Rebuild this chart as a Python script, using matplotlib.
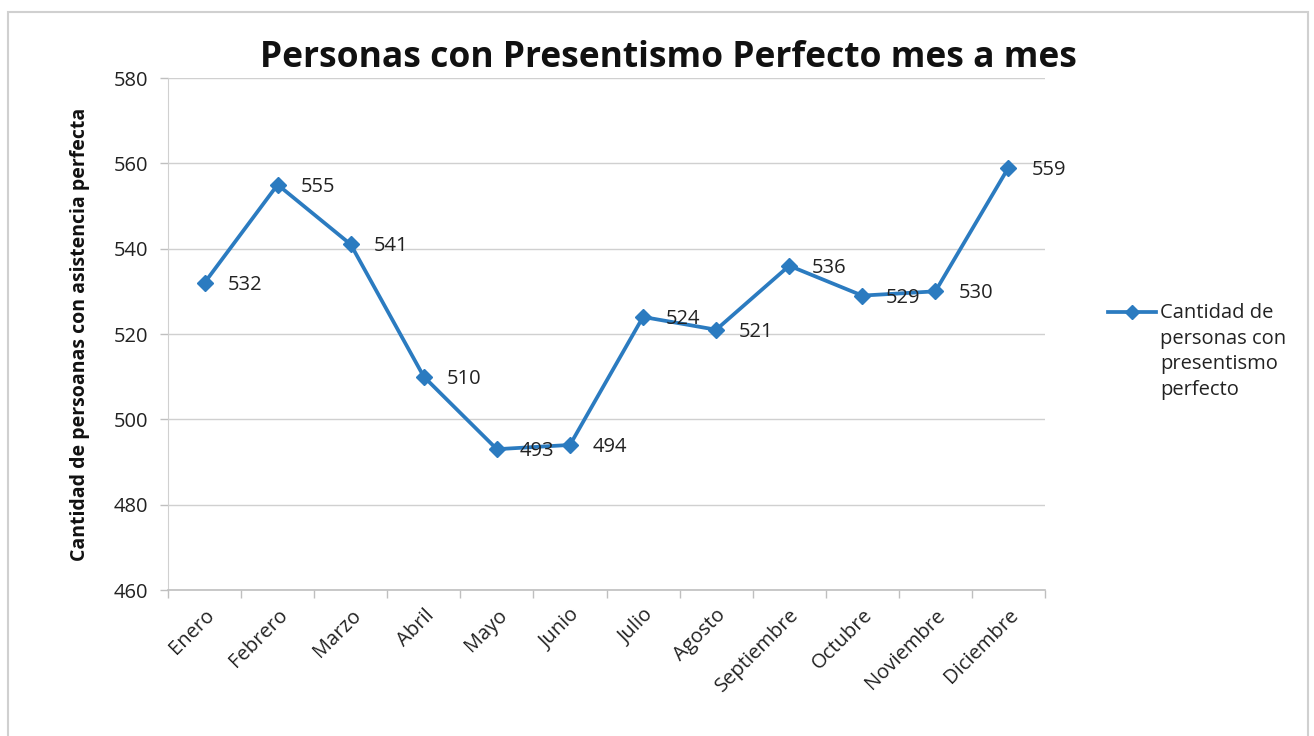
import matplotlib
matplotlib.use("Agg")
import matplotlib.pyplot as plt
from matplotlib.lines import Line2D
from matplotlib.patches import Rectangle
import numpy as np

months = ["Enero", "Febrero", "Marzo", "Abril", "Mayo", "Junio", "Julio",
          "Agosto", "Septiembre", "Octubre", "Noviembre", "Diciembre"]
values = [532, 555, 541, 510, 493, 494, 524, 521, 536, 529, 530, 559]
yticks = [460, 480, 500, 520, 540, 560, 580]
title = "Personas con Presentismo Perfecto mes a mes"
ylabel = "Cantidad de persoanas con asistencia perfecta"
legend_label = "Cantidad de\npersonas con\npresentismo\nperfecto"

plt.rcParams['font.family'] = ['Open Sans', 'DejaVu Sans']
color = "#2b7bc0"
tcolor = "#222222"

fig = plt.figure(figsize=(13.14, 7.36), dpi=100)
fig.patch.set_facecolor("white")
fig.add_artist(Rectangle((8/1314, -0.01), (1308-8)/1314, 1 - 12/736 + 0.01,
                         transform=fig.transFigure, fill=False,
                         edgecolor="#d0d0d0", linewidth=1.5))

ax = fig.add_axes([168/1314, 1 - 590/736, (1045-168)/1314, (590-78)/736])
x = np.arange(len(months))
ax.plot(x, values, color=color, linewidth=2.7, marker="D", markersize=8.5,
        markeredgecolor=color, markerfacecolor=color, zorder=3)
for xi, v in zip(x, values):
    ax.annotate(str(v), (xi, v), xytext=(23, -2), textcoords="offset pixels",
                ha="left", va="center", fontsize=14.5, color=tcolor)

ax.set_xlim(-0.5, len(months) - 0.5)
ax.set_ylim(460, 580)
ax.set_yticks(yticks)
ax.set_xticks(x)
ax.set_xticklabels(months, rotation=45, ha="right", rotation_mode="anchor",
                   fontsize=14.5, color=tcolor)
ax.set_xticks(np.arange(-0.5, len(months)), minor=True)
ax.tick_params(axis="x", which="major", length=0, pad=11)
ax.tick_params(axis="x", which="minor", length=6, color="#bfbfbf", width=1)
ax.tick_params(axis="y", length=6, color="#bfbfbf", width=1, labelsize=14.5,
               labelcolor=tcolor, pad=8)
ax.grid(axis="y", color="#d0d0d0", linewidth=1)
ax.set_axisbelow(True)
for s in ["top", "right"]:
    ax.spines[s].set_visible(False)
ax.spines["left"].set_color("#d0d0d0")
ax.spines["bottom"].set_color("#bfbfbf")
ax.spines["bottom"].set_linewidth(1.2)

ax.set_ylabel(ylabel, fontsize=14, fontweight="bold", color="#111111")
ax.yaxis.set_label_coords(-78/877, 0.5)
fig.text(668/1314, 1 - 58/736, title, ha="center", va="center",
         fontsize=25.5, fontweight="bold", color="#111111")

# legend
fig.add_artist(Line2D([1108/1314, 1156/1314], [1 - 312/736, 1 - 312/736],
                      transform=fig.transFigure, color=color, linewidth=2.7,
                      zorder=5))
fig.add_artist(Line2D([1132/1314], [1 - 312/736], transform=fig.transFigure,
                      color=color, marker="D", markersize=7.5, linestyle="none"))
fig.text(1160/1314, 1 - 303/736, legend_label, ha="left", va="top",
         fontsize=14.5, color=tcolor, linespacing=1.38)

fig.savefig("out.png", dpi=100)
